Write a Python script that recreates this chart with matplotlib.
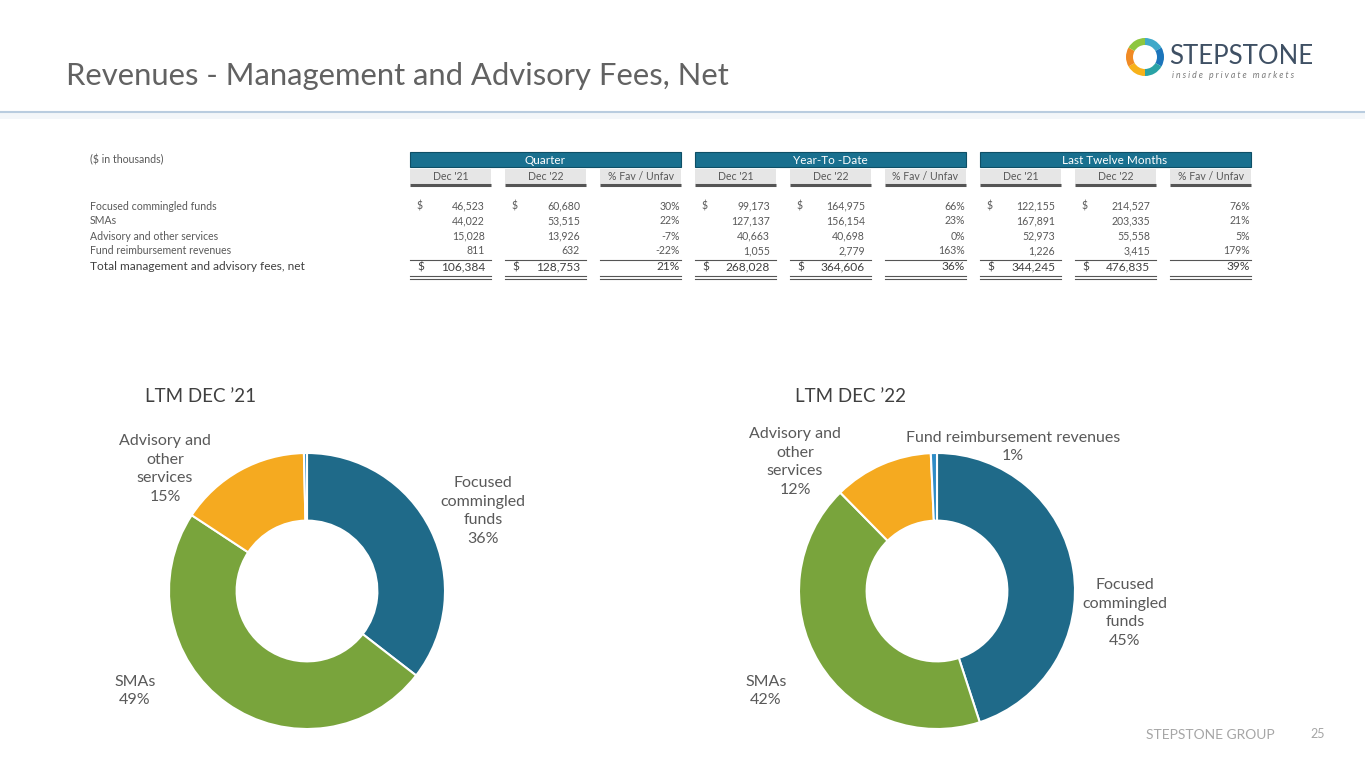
import numpy as np
import matplotlib.pyplot as plt
from matplotlib.patches import Rectangle, Wedge

# table data ($ in thousands)
row_labels = ['Focused commingled funds', 'SMAs', 'Advisory and other services',
              'Fund reimbursement revenues']
total_label = 'Total management and advisory fees, net'
group_names = ['Quarter', 'Year-To -Date', 'Last Twelve Months']
sub_headers = ["Dec '21", "Dec '22", '% Fav / Unfav']

q_dec21 = [46523, 44022, 15028, 811]
q_dec22 = [60680, 53515, 13926, 632]
ytd_dec21 = [99173, 127137, 40663, 1055]
ytd_dec22 = [164975, 156154, 40698, 2779]
ltm_dec21 = [122155, 167891, 52973, 1226]
ltm_dec22 = [214527, 203335, 55558, 3415]

# donut data
pie_names = ['Focused commingled funds', 'SMAs', 'Advisory and other services',
             'Fund reimbursement revenues']
pie_titles = ['LTM DEC \u201921', 'LTM DEC \u201922']
pie_left_labels = ['Focused\ncommingled\nfunds\n36%', 'SMAs\n49%',
                   'Advisory and\nother\nservices\n15%', None]
pie_right_labels = ['Focused\ncommingled\nfunds\n45%', 'SMAs\n42%',
                    'Advisory and\nother\nservices\n12%',
                    'Fund reimbursement revenues\n1%']
pie_colors = ['#1F6A89', '#79A43C', '#F5AA20', '#2F8CC6']

FONT = ['Lato', 'DejaVu Sans']
TXT = '#595959'
TEAL = '#19708F'
FS = 7.6    # table body
FT = 8.6    # total row

plt.rcParams['font.family'] = FONT

fig = plt.figure(figsize=(13.65, 7.68), dpi=100)
ax = fig.add_axes([0, 0, 1, 1])
ax.set_xlim(0, 1365)
ax.set_ylim(768, 0)
ax.axis('off')

# title + rule
ax.text(66, 76, 'Revenues - Management and Advisory Fees, Net', fontsize=22.3,
        color='#626262', va='center', ha='left')
ax.plot([0, 1365], [112, 112], color='#B9CCDF', lw=1.5)
ax.add_patch(Rectangle((0, 113), 1365, 6, color='#F3F6F9', lw=0))

# logo
ring_cols = ['#F7B21B', '#F08A24', '#8DC63F', '#3FA9C9', '#1B75BB', '#29A3A6']
for i, c in enumerate(ring_cols):
    ax.add_patch(Wedge((1145, 57), 19, 90 + i * 60, 150 + i * 60, width=7, color=c, lw=0))
ax.text(1169, 57, 'STEPSTONE', fontsize=18.5, color='#3F5064', va='center', ha='left')
ax.text(1172, 76, 'i n s i d e   p r i v a t e   m a r k e t s', fontsize=6.3,
        color='#7A7A7A', style='italic', va='center', ha='left')

# table
ax.text(90, 160, '($ in thousands)', fontsize=FS, color=TXT, va='center')
row_y = [206, 221, 236, 251]
total_y = 267
for lab, y in zip(row_labels, row_y):
    ax.text(90, y, lab, fontsize=FS, color=TXT, va='center')
ax.text(90, total_y, total_label, fontsize=FT, color='#404040', va='center')

groups = [(q_dec21, q_dec22), (ytd_dec21, ytd_dec22), (ltm_dec21, ltm_dec22)]
group_x = [410, 695, 980]
box_off = [0, 95, 190]
box_w = 81
for gname, gx, (a, b) in zip(group_names, group_x, groups):
    ax.add_patch(Rectangle((gx, 152), 271, 15, facecolor=TEAL, edgecolor='#0E4F66', lw=0.8))
    ax.text(gx + 135, 160, gname, fontsize=8.5, color='white', ha='center', va='center')
    for off, sh in zip(box_off, sub_headers):
        ax.add_patch(Rectangle((gx + off, 169), box_w, 15, facecolor='#E6E6E6', lw=0))
        ax.plot([gx + off, gx + off + box_w], [185, 185], color='#555555', lw=2.2,
                solid_capstyle='butt')
        ax.text(gx + off + box_w / 2, 177, sh, fontsize=FS, color=TXT,
                ha='center', va='center')
    ta, tb = sum(a), sum(b)
    for i, y in enumerate(row_y):
        if i == 0:
            ax.text(gx + 7, y, '$', fontsize=FS, color=TXT, va='center')
            ax.text(gx + 102, y, '$', fontsize=FS, color=TXT, va='center')
        ax.text(gx + 75, y, f'{a[i]:,}', fontsize=FS, color=TXT, va='center', ha='right')
        ax.text(gx + 170, y, f'{b[i]:,}', fontsize=FS, color=TXT, va='center', ha='right')
        pct = round((b[i] - a[i]) / a[i] * 100)
        ax.text(gx + 270, y, f'{pct}%', fontsize=FS, color=TXT, va='center', ha='right')
    for off in box_off:
        ax.plot([gx + off, gx + off + box_w], [259.5, 259.5], color='#555555', lw=0.8)
        ax.plot([gx + off, gx + off + box_w], [276, 276], color='#555555', lw=0.8)
        ax.plot([gx + off, gx + off + box_w], [278.5, 278.5], color='#555555', lw=0.8)
    ax.text(gx + 7, total_y, '$', fontsize=FT, color='#404040', va='center')
    ax.text(gx + 75, total_y, f'{ta:,}', fontsize=FT, color='#404040', va='center', ha='right')
    ax.text(gx + 102, total_y, '$', fontsize=FT, color='#404040', va='center')
    ax.text(gx + 170, total_y, f'{tb:,}', fontsize=FT, color='#404040', va='center', ha='right')
    ax.text(gx + 270, total_y, f'{round((tb - ta) / ta * 100)}%', fontsize=FT,
            color='#404040', va='center', ha='right')

# donuts
centers = [307, 937]
r = 138
for cx, vals in zip(centers, [ltm_dec21, ltm_dec22]):
    pax = fig.add_axes([(cx - r) / 1365, (768 - 591 - r) / 768, 2 * r / 1365, 2 * r / 768])
    pax.pie(vals, colors=pie_colors, startangle=90, counterclock=False,
            wedgeprops=dict(width=0.49, edgecolor='white', linewidth=1.5))
    pax.set_xlim(-1, 1)
    pax.set_ylim(-1, 1)
    pax.set_aspect('equal')
    pax.axis('off')

ax.text(145, 396, pie_titles[0], fontsize=13.5, color='#404040', va='center', ha='left')
ax.text(795, 396, pie_titles[1], fontsize=13.5, color='#404040', va='center', ha='left')

left_pos = [(483, 511), (135, 691), (165, 469), None]
right_pos = [(1125, 613), (766, 691), (795, 462), (1013, 447)]
for labels, pos in [(pie_left_labels, left_pos), (pie_right_labels, right_pos)]:
    for lab, p in zip(labels, pos):
        if lab is None:
            continue
        ax.text(p[0], p[1], lab, fontsize=11.5, color=TXT, ha='center', va='center',
                linespacing=1.45)

# footer
ax.text(1210, 735, 'STEPSTONE GROUP', fontsize=10, color='#A6A6A6', ha='center', va='center')
ax.text(1318, 734, '25', fontsize=9, color='#A6A6A6', ha='center', va='center')

fig.savefig('out.png', dpi=100)
